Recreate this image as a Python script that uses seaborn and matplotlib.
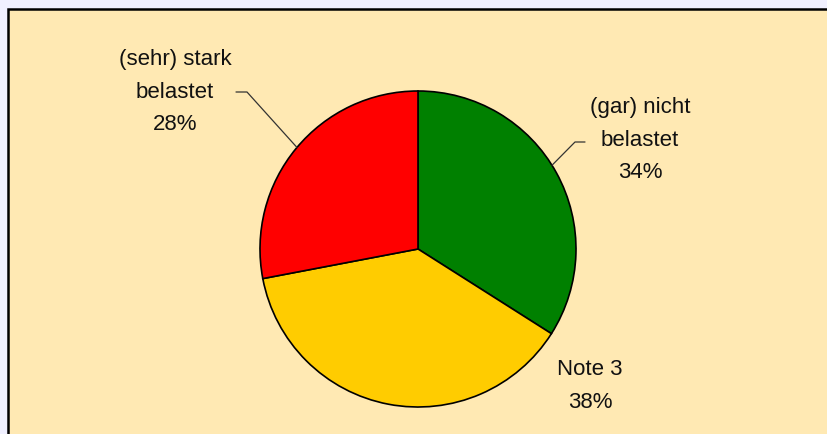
import matplotlib.pyplot as plt
import seaborn as sns
from matplotlib.patches import Rectangle
import numpy as np

# Daten
labels = ["(gar) nicht\nbelastet", "Note 3", "(sehr) stark\nbelastet"]
shares = [34, 38, 28]
colors = ["#008000", "#FFCC00", "#FF0000"]

sns.set_style("white")
plt.rcParams["font.family"] = ["Liberation Sans", "DejaVu Sans"]

W, H = 828, 434
fig = plt.figure(figsize=(W / 100, H / 100), dpi=100, facecolor="#F0F0FF")
ax = fig.add_axes([0, 0, 1, 1])
ax.set_facecolor("#F0F0FF")

# Rahmen mit Füllung
ax.add_patch(Rectangle((8.5, -10), W, H - 8.5 + 10, facecolor="#FFE9B3",
                       edgecolor="black", linewidth=1.8, zorder=0))

cx, cy, r = 418, H - 249, 158
wedges, _ = ax.pie(shares, colors=colors, startangle=90, counterclock=False,
                   center=(cx, cy), radius=r,
                   wedgeprops=dict(edgecolor="black", linewidth=1.2))

# Beschriftungen
pcts = [f"{v}%" for v in shares]
text_pos = [(640, H - 140), (590, H - 386), (175, H - 92)]
for lab, pct, (tx, ty) in zip(labels, pcts, text_pos):
    ax.text(tx, ty, f"{lab}\n{pct}", ha="center", va="center",
            fontsize=16, linespacing=1.75, color="#111111")

# Führungslinien
def edge(angle_deg):
    a = np.deg2rad(angle_deg)
    return cx + r * np.cos(a), cy + r * np.sin(a)

sx, sy = edge(32)
ax.plot([sx, 575, 585], [sy, H - 142, H - 142], color="#333333", lw=0.9)
sx, sy = edge(140)
ax.plot([sx, 247, 236], [sy, H - 92, H - 92], color="#333333", lw=0.9)

ax.set_xlim(0, W)
ax.set_ylim(0, H)
ax.set_aspect("equal")
ax.axis("off")

fig.savefig("out.png", dpi=100, facecolor=fig.get_facecolor())
